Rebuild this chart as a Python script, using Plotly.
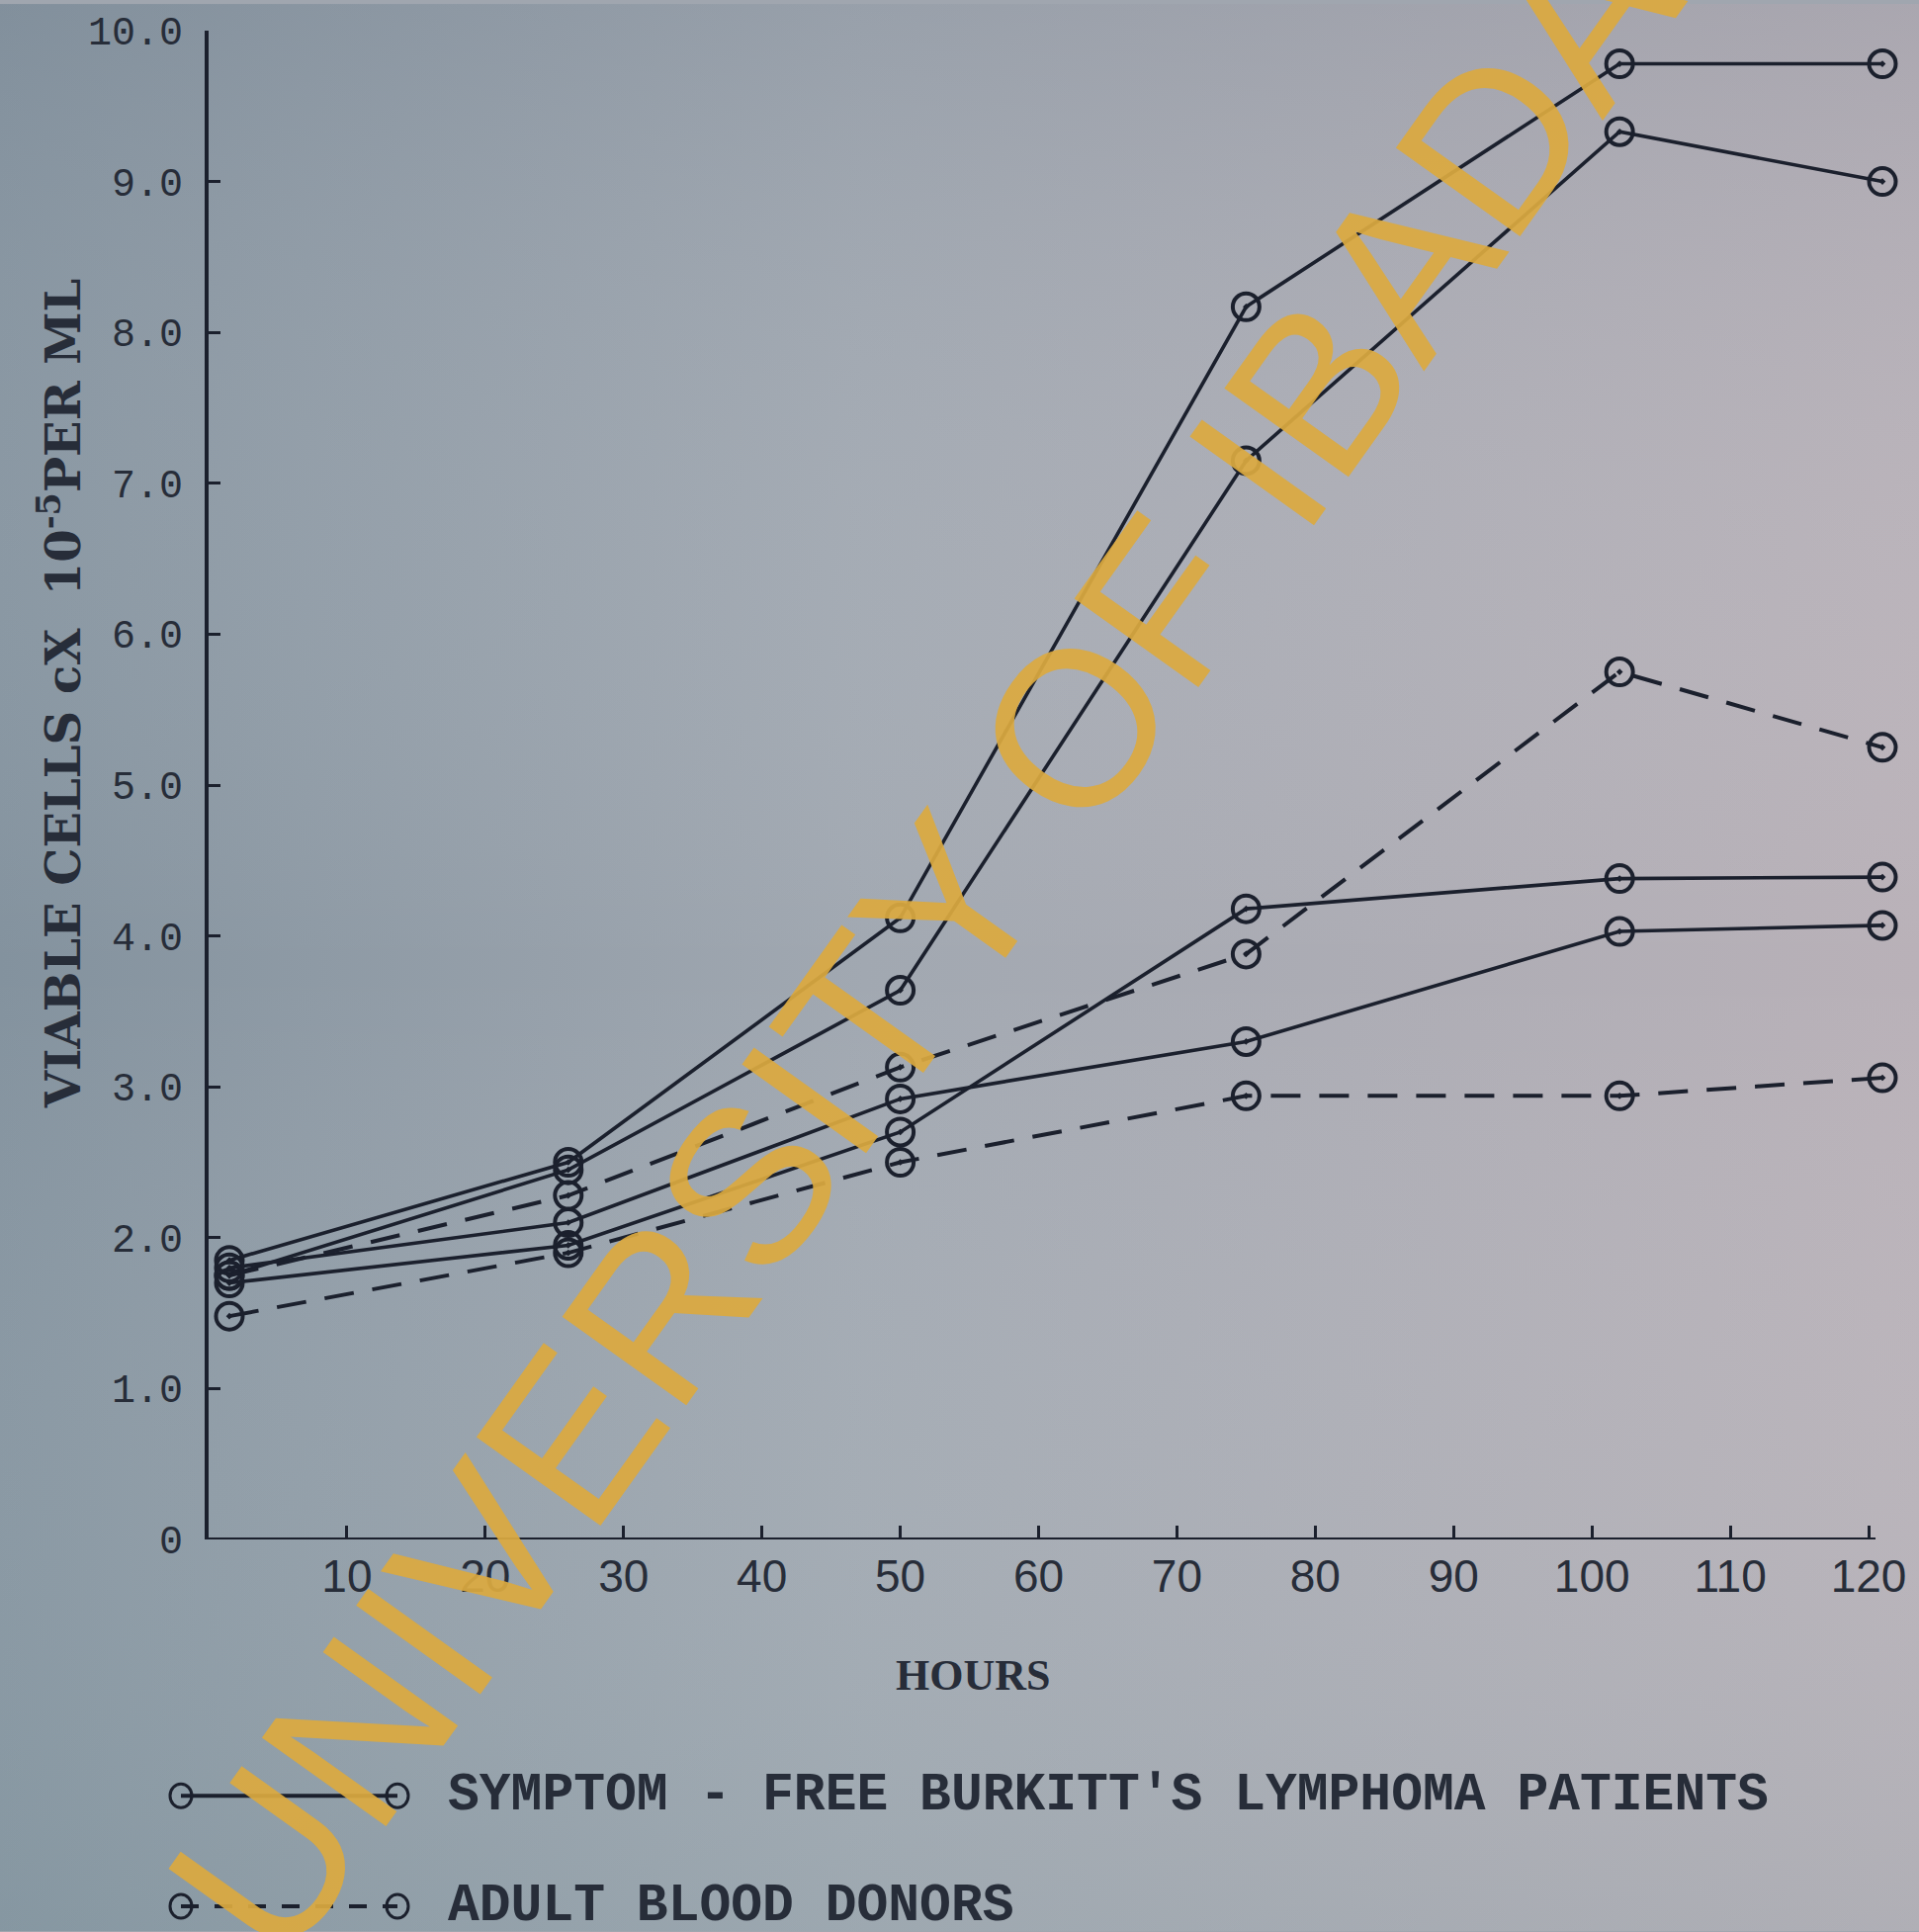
import base64
import plotly.graph_objects as go

# ---------------- data ----------------
HOURS = [1.5, 26, 50, 75, 102, 121]

# symptom-free Burkitt's lymphoma patients (solid lines)
PATIENT_A = [1.85, 2.50, 4.12, 8.17, 9.78, 9.78]
PATIENT_B = [1.75, 2.45, 3.64, 7.15, 9.33, 9.00]
PATIENT_C = [1.70, 1.95, 2.70, 4.18, 4.38, 4.39]
PATIENT_D = [1.80, 2.10, 2.92, 3.30, 4.03, 4.07]

# adult blood donors (dashed lines)
DONOR_A = [1.75, 2.28, 3.13, 3.88, 5.75, 5.25]
DONOR_B = [1.48, 1.90, 2.50, 2.94, 2.94, 3.06]

X_TICKS = [10, 20, 30, 40, 50, 60, 70, 80, 90, 100, 110, 120]
Y_TICKS = [0, 1, 2, 3, 4, 5, 6, 7, 8, 9, 10]
Y_TICK_TEXT = ["0", "1.0", "2.0", "3.0", "4.0", "5.0", "6.0", "7.0", "8.0", "9.0", "10.0"]

LEGEND_SOLID = "SYMPTOM - FREE BURKITT'S LYMPHOMA PATIENTS"
LEGEND_DASHED = "ADULT BLOOD DONORS"
X_TITLE = "HOURS"
Y_TITLE = "VIABLE CELLS cX  10<sup>-5</sup>PER ML"
WATERMARK = "UNIVERSITY OF IBADAN"

# ---------------- layout geometry ----------------
W, H = 1941, 1954
ML, MR, MT, MB = 211, 16, 27, 397
PW, PH = W - ML - MR, H - MT - MB
X_RANGE = [0, 122.5]

INK = "#1b202d"
TXT = "#272d39"


def px(xp, yp):
    return (xp - ML) / PW, (H - MB - yp) / PH


fig = go.Figure()

solid = [PATIENT_A, PATIENT_B, PATIENT_C, PATIENT_D]
dashed = [DONOR_A, DONOR_B]
for s in solid:
    fig.add_trace(go.Scatter(
        x=HOURS, y=s, mode="lines+markers", cliponaxis=False,
        line=dict(color=INK, width=3.6),
        marker=dict(symbol="circle-open-dot", size=27, color=INK, line=dict(width=4)),
        showlegend=False))
for s in dashed:
    fig.add_trace(go.Scatter(
        x=HOURS, y=s, mode="lines+markers", cliponaxis=False,
        line=dict(color=INK, width=4, dash="30px,19px"),
        marker=dict(symbol="circle-open-dot", size=27, color=INK, line=dict(width=4)),
        showlegend=False))

# background (scanned paper tint)
svg = ('<svg xmlns="http://www.w3.org/2000/svg" width="1941" height="1954">'
       '<defs><linearGradient id="g" x1="0" y1="0" x2="1" y2="0">'
       '<stop offset="0" stop-color="#83929e"/>'
       '<stop offset="0.45" stop-color="#a1a8b1"/>'
       '<stop offset="1" stop-color="#b9b1b8"/>'
       '</linearGradient>'
       '<linearGradient id="v" x1="0" y1="0" x2="0" y2="1">'
       '<stop offset="0" stop-color="#7d8896" stop-opacity="0.25"/>'
       '<stop offset="0.5" stop-color="#ffffff" stop-opacity="0"/>'
       '<stop offset="1" stop-color="#8fa8ad" stop-opacity="0.22"/>'
       '</linearGradient></defs>'
       '<rect width="100%" height="100%" fill="url(#g)"/>'
       '<rect width="100%" height="100%" fill="url(#v)"/></svg>')
src = "data:image/svg+xml;base64," + base64.b64encode(svg.encode()).decode()
x0p, y0p = px(0, 0)
fig.add_layout_image(dict(source=src, xref="paper", yref="paper", x=x0p, y=y0p,
                          sizex=W / PW, sizey=H / PH, sizing="stretch",
                          xanchor="left", yanchor="top", layer="below"))

# x axis line (ends at ~120 h like the original)
fig.add_shape(type="line", xref="x", yref="y", x0=0, x1=120.5, y0=0, y1=0,
              line=dict(color=INK, width=4))


# legend samples
def legend_row(yc, dash):
    xa, ya = px(183, yc)
    xb, yb = px(402, yc)
    fig.add_shape(type="line", xref="paper", yref="paper", x0=xa, x1=xb, y0=ya, y1=ya,
                  line=dict(color=INK, width=4, dash=dash))
    for xx in (xa, xb):
        fig.add_shape(type="circle", xref="paper", yref="paper",
                      xsizemode="pixel", ysizemode="pixel", xanchor=xx, yanchor=ya,
                      x0=-11, x1=11, y0=-12, y1=12,
                      line=dict(color=INK, width=3), fillcolor="rgba(0,0,0,0)")


legend_row(1817, "solid")
legend_row(1929, "18px,16px")

ann = []
xa, ya = px(451, 1817)
ann.append(dict(text="<b>" + LEGEND_SOLID + "</b>", x=xa, y=ya, xref="paper", yref="paper",
                showarrow=False, xanchor="left", yanchor="middle",
                font=dict(family="Liberation Mono", size=53, color=TXT)))
xa, ya = px(451, 1929)
ann.append(dict(text="<b>" + LEGEND_DASHED + "</b>", x=xa, y=ya, xref="paper", yref="paper",
                showarrow=False, xanchor="left", yanchor="middle",
                font=dict(family="Liberation Mono", size=53, color=TXT)))
xa, ya = px(984, 1695)
ann.append(dict(text="<b>" + X_TITLE + "</b>", x=xa, y=ya, xref="paper", yref="paper",
                showarrow=False, xanchor="center", yanchor="middle",
                font=dict(family="Liberation Serif", size=44, color=TXT)))
xa, ya = px(60, 700)
ann.append(dict(text="<b>" + Y_TITLE + "</b>", x=xa, y=ya, xref="paper", yref="paper",
                textangle=-90, showarrow=False, xanchor="center", yanchor="middle",
                font=dict(family="DejaVu Serif", size=48, color=TXT)))
xa, ya = px(980, 884)
ann.append(dict(text=WATERMARK, x=xa, y=ya, xref="paper", yref="paper", textangle=-54.5,
                showarrow=False, xanchor="center", yanchor="middle", opacity=0.92,
                font=dict(family="Liberation Sans", size=224, color="#dcaa40")))

fig.update_layout(
    width=W, height=H,
    margin=dict(l=ML, r=MR, t=MT, b=MB),
    paper_bgcolor="#a0a6af", plot_bgcolor="rgba(0,0,0,0)",
    showlegend=False,
    annotations=ann,
    xaxis=dict(range=X_RANGE, tickvals=X_TICKS, ticks="inside", ticklen=14, tickwidth=3,
               tickcolor=INK, showline=False, showgrid=False, zeroline=False,
               ticklabelstandoff=6,
               tickfont=dict(family="Liberation Sans Narrow, Liberation Sans", size=46,
                             color=TXT)),
    yaxis=dict(range=[0, 10], tickvals=Y_TICKS, ticktext=Y_TICK_TEXT, ticks="inside",
               ticklen=12, tickwidth=3, tickcolor=INK, showline=True, linewidth=4,
               linecolor=INK, showgrid=False, zeroline=False, ticklabelstandoff=14,
               tickfont=dict(family="Liberation Mono", size=40, color=TXT)),
)

fig.write_html("out.html",
               config={"displayModeBar": False},
               post_script="document.body.style.margin='0';"
                           "document.body.style.background='#a0a6af';")
